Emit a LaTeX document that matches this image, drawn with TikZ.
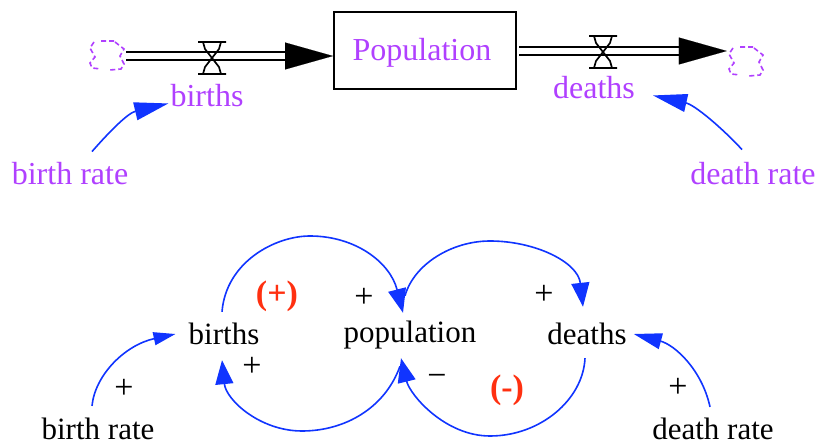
\documentclass[tikz,border=0pt]{standalone}
\usepackage{fontspec}
\setmainfont{Liberation Serif}
\usetikzlibrary{arrows.meta}
\definecolor{vpurple}{HTML}{B040FF}
\definecolor{vblue}{HTML}{1034FF}
\definecolor{vred}{HTML}{FF3010}
\tikzset{
  x=1pt,y=-1pt,
  lab/.style={inner sep=0pt,font=\fontsize{32}{32}\selectfont,text=vpurple},
  var/.style={inner sep=0pt,minimum height=44pt,font=\fontsize{31}{31}\selectfont,text=black},
  var2/.style={inner sep=0pt,font=\fontsize{31}{31}\selectfont,text=black},
  sign/.style={inner sep=0pt,font=\fontsize{34}{34}\selectfont,text=black},
  polar/.style={inner sep=0pt,font=\bfseries\fontsize{34}{34}\selectfont,text=vred},
  stock/.style={draw=black,line width=2pt,minimum width=182pt,minimum height=77pt,inner sep=0pt},
  ghost/.style={inner sep=0pt,minimum width=38pt,minimum height=30pt},
  valvenode/.style={inner sep=0pt,minimum width=30pt,minimum height=34pt},
  pipe/.style={draw=black,line width=2pt},
  pipehead/.style={draw=black,line width=.1pt,-{Triangle[black,length=48pt,width=27pt]}},
  link/.style={draw=vblue,line width=1.6pt,-{Triangle[vblue,length=34pt,width=18pt]}},
  loop/.style={draw=vblue,line width=1.6pt,-{Triangle[vblue,length=24pt,width=18pt]}},
  cloudp/.pic={
    \draw[vpurple,line width=1.6pt,dash pattern=on 5pt off 3pt]
      (-13,-14)--(-17,-8)--(-12,1)--(-17,7)--(-15,12)--(-6,13)
      (-6,-15)--(7,-15)
      (8,-14)--(17,-7)--(13,0)--(17,8)--(14,13)--(3,14);},
  valvep/.pic={
    \draw[black,line width=1.7pt,line join=miter]
      (-14,-16)--(14,-16) (-14,16)--(14,16)
      (-9,-16)--(-7,-9)--(7,9)--(9,16) (9,-16)--(7,-9)--(-7,9)--(-9,16);},
}
\begin{document}
\begin{tikzpicture}
\useasboundingbox (0,0) rectangle (816,443);
% stock and flow
\node[stock] (stockbox) at (425,50.5) {};
\node[lab] (poplabel) at (422,53) {Population};
\node[ghost] (srcL) at (107,56) {};
\node[ghost] (sinkR) at (746,62) {};
\node[valvenode] (valveL) at (212,58) {};
\node[valvenode] (valveR) at (603,52) {};
\node[lab] (birthsflow) at (207,96) {births};
\node[lab] (deathsflow) at (594,88) {deaths};
\node[lab] (birthrateA) at (70,174) {birth rate};
\node[lab] (deathrateA) at (753,174) {death rate};
\coordinate (headL) at (285,56);
\coordinate (headR) at (682,51);
\coordinate (outR) at (519,51);
\pic at (srcL) {cloudp};
\pic at (sinkR) {cloudp};
\draw[pipe] ([yshift=-4pt]srcL.east) -- ([yshift=-4pt]headL);
\draw[pipe] ([yshift=4pt]srcL.east) -- ([yshift=4pt]headL);
\draw[pipe] ([yshift=-4pt]outR) -- ([yshift=-4pt]headR);
\draw[pipe] ([yshift=4pt]outR) -- ([yshift=4pt]headR);
\draw[pipehead] (headL) -- (stockbox.west |- headL);
\draw[pipehead] (headR) -- (sinkR.west |- headR);
\pic at (valveL) {valvep};
\pic at (valveR) {valvep};
\coordinate (brA) at ([xshift=22pt,yshift=11pt]birthrateA.north);
\coordinate (drA) at ([xshift=-11pt,yshift=13pt]deathrateA.north);
\coordinate (brB) at ([xshift=-2pt,yshift=4pt]birthsflow.south west);
\coordinate (drB) at ([xshift=18pt,yshift=4pt]deathsflow.south east);
\draw[link] (brA) .. controls (110,131) and (128,113) .. (brB);
\draw[link] (drA) .. controls (722,128) and (695,105) .. (drB);
% causal loop
\node[var] (births) at (224,334) {births};
\node[var] (population) at (410,335) {population};
\node[var] (deaths) at (587,334) {deaths};
\node[var2] (birthrate) at (98,429) {birth rate};
\node[var2] (deathrate) at (713,429) {death rate};
\coordinate (a1) at ([xshift=-2pt]births.north);
\coordinate (a2) at ([xshift=-5pt,yshift=17pt]population.north);
\coordinate (a3) at ([xshift=-10pt,yshift=-9pt]population.south);
\coordinate (a4) at ([xshift=-2pt,yshift=-2pt]deaths.south);
\coordinate (a5) at ([xshift=-6pt,yshift=12pt]birthrate.north);
\coordinate (a6) at ([xshift=-3pt,yshift=11pt]deathrate.north);
\draw[loop] (a1) .. controls (226,262) and (275,236) .. (310,236) .. controls (355,236) and (390,262) .. ([xshift=-7pt,yshift=0pt]population.north);
\draw[loop] (a2) .. controls (414,264) and (452,241) .. (490,241) .. controls (535,241) and (578,262) .. ([xshift=-4pt,yshift=5pt]deaths.north);
\draw[loop] (a3) .. controls (385,408) and (345,431) .. (302,431) .. controls (260,431) and (226,400) .. ([xshift=-2pt,yshift=-4pt]births.south);
\draw[loop] (a4) .. controls (583,400) and (540,436) .. (490,436) .. controls (445,436) and (410,395) .. ([xshift=-9pt,yshift=-1pt]population.south);
\draw[link,-{Triangle[vblue,length=22pt,width=13pt]}] (a5) .. controls (95,375) and (125,345) .. ([xshift=-13pt]births.west);
\draw[link,-{Triangle[vblue,length=28pt,width=16pt]}] (a6) .. controls (702,370) and (675,345) .. ([xshift=7pt]deaths.east);
\node[sign] (p1) at (124,389) {+};
\node[sign] (p2) at (252,367) {+};
\node[sign] (p3) at (364,298) {+};
\node[sign] (p4) at (544,295) {+};
\node[sign] (p5) at (678,388) {+};
\node[sign] (m1) at (437,380) {\textminus};
\node[polar] (lp) at (277,296) {(+)};
\node[polar] (ln) at (507,390) {(-)};
\end{tikzpicture}
\end{document}
